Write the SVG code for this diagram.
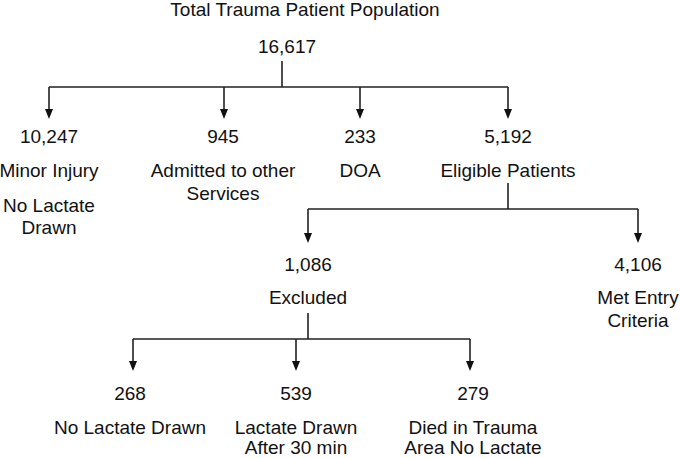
<svg xmlns="http://www.w3.org/2000/svg" width="680" height="458" viewBox="0 0 680 458">
<style>
text{font-family:"Liberation Sans",Arial,sans-serif;font-size:19px;fill:#111;text-anchor:middle}
.c{stroke:#222;stroke-width:1.6;fill:none}
.h{fill:#111}
</style>
<rect width="680" height="458" fill="#fff"/>
<g id="connectors">
<path class="c" d="M282,61 V87 M49,87 H508"/>
<path class="c" d="M49,87 V112 M224,87 V112 M360,87 V112 M508,87 V112"/>
<path class="c" d="M508,183 V209 M308,209 H638 M308,209 V236 M638,209 V236"/>
<path class="c" d="M308,313 V339 M133,339 H470 M133,339 V364 M296,339 V364 M470,339 V364"/>
<g class="h">
<path d="M45,109 L53,109 L49,119 Z"/><path d="M220,109 L228,109 L224,119 Z"/><path d="M356,109 L364,109 L360,119 Z"/><path d="M504,109 L512,109 L508,119 Z"/>
<path d="M304,233 L312,233 L308,243 Z"/><path d="M634,233 L642,233 L638,243 Z"/>
<path d="M129,361 L137,361 L133,371 Z"/><path d="M292,361 L300,361 L296,371 Z"/><path d="M466,361 L474,361 L470,371 Z"/>
</g>
</g>
<g id="root"><text x="305" y="16">Total Trauma Patient Population</text><text x="287" y="53">16,617</text></g>
<g id="minor"><text x="49" y="143">10,247</text><text x="49" y="177">Minor Injury</text><text x="49" y="212">No Lactate</text><text x="49" y="234">Drawn</text></g>
<g id="admitted"><text x="223" y="143">945</text><text x="223" y="177">Admitted to other</text><text x="223" y="200">Services</text></g>
<g id="doa"><text x="360" y="143">233</text><text x="360" y="177">DOA</text></g>
<g id="eligible"><text x="508" y="143">5,192</text><text x="508" y="177">Eligible Patients</text></g>
<g id="excluded"><text x="308" y="271">1,086</text><text x="308" y="304">Excluded</text></g>
<g id="met"><text x="638" y="271">4,106</text><text x="638" y="304">Met Entry</text><text x="638" y="327">Criteria</text></g>
<g id="nolactate"><text x="130" y="400">268</text><text x="130" y="434">No Lactate Drawn</text></g>
<g id="after30"><text x="296" y="400">539</text><text x="296" y="434">Lactate Drawn</text><text x="296" y="454">After 30 min</text></g>
<g id="died"><text x="473" y="400">279</text><text x="473" y="434">Died in Trauma</text><text x="473" y="454">Area No Lactate</text></g>
</svg>
